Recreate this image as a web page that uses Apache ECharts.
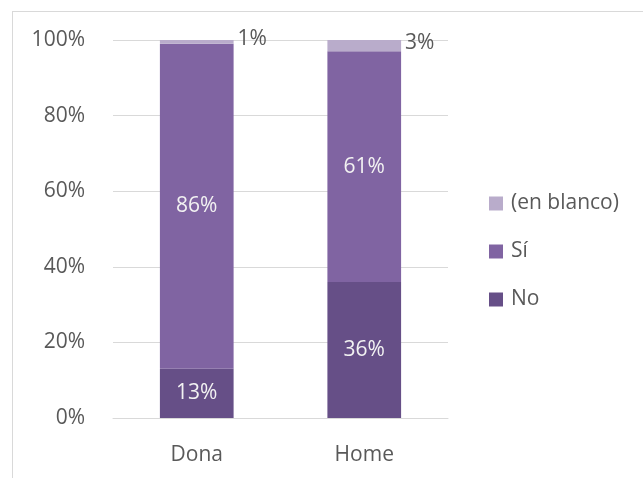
<!DOCTYPE html>
<html>
<head>
<meta charset="utf-8">
<script src="https://cdn.jsdelivr.net/npm/echarts@6/dist/echarts.min.js"></script>
<style>
  html, body { margin: 0; padding: 0; background: #fff; }
  .frame {
    position: absolute; left: 12px; top: 11px; width: 700px; height: 500px;
    border-left: 1px solid #d9d9d9; border-top: 1px solid #d9d9d9;
  }
  #chart { position: absolute; left: 0; top: 0; width: 643px; height: 478px; }
</style>
</head>
<body>
<div class="frame"></div>
<div id="chart"></div>
<script>
  // categories and shares (percent)
  const categories = ['Dona', 'Home'];
  const noValues = [13, 36];
  const siValues = [86, 61];
  const blancoValues = [1, 3];
  const yTicks = [0, 20, 40, 60, 80, 100];

  const font = '"Open Sans", "Noto Sans", sans-serif';
  const fs = 21;
  const chart = echarts.init(document.getElementById('chart'), null, { renderer: 'canvas' });

  const insideLabel = {
    show: true,
    position: 'inside',
    color: '#f2f2f2',
    fontSize: fs,
    fontFamily: font,
    formatter: p => p.value + '%'
  };

  chart.setOption({
    animation: false,
    grid: { left: 113, right: 195, top: 40, bottom: 60 },
    legend: {
      orient: 'vertical',
      left: 484,
      top: 186,
      itemWidth: 14,
      itemHeight: 14,
      itemGap: 23,
      icon: 'rect',
      data: ['(en blanco)', 'Sí', 'No'],
      textStyle: { color: '#595959', fontSize: fs, fontFamily: font, lineHeight: 25, padding: [0, 0, 0, 3] }
    },
    xAxis: {
      type: 'category',
      data: categories,
      axisLine: { lineStyle: { color: '#d9d9d9', width: 1 } },
      axisTick: { show: false },
      axisLabel: { color: '#595959', fontSize: fs, fontFamily: font, margin: 27 }
    },
    yAxis: {
      type: 'value',
      min: yTicks[0],
      max: yTicks[yTicks.length - 1],
      interval: 20,
      axisLine: { show: false },
      axisTick: { show: false },
      splitLine: { lineStyle: { color: '#d9d9d9', width: 1 } },
      axisLabel: { color: '#595959', fontSize: fs, fontFamily: font, margin: 28, formatter: '{value}%' }
    },
    series: [
      {
        name: 'No', type: 'bar', stack: 'total', barWidth: '44%',
        data: noValues,
        itemStyle: { color: '#664f87' },
        label: insideLabel
      },
      {
        name: 'Sí', type: 'bar', stack: 'total',
        data: siValues,
        itemStyle: { color: '#8064a2' },
        label: insideLabel
      },
      {
        name: '(en blanco)', type: 'bar', stack: 'total',
        data: blancoValues,
        itemStyle: { color: '#b9accb' },
        label: {
          show: true, position: 'right', distance: 4, offset: [0, -3],
          color: '#595959', fontSize: fs, fontFamily: font,
          formatter: p => p.value + '%'
        }
      }
    ]
  });
</script>
</body>
</html>
